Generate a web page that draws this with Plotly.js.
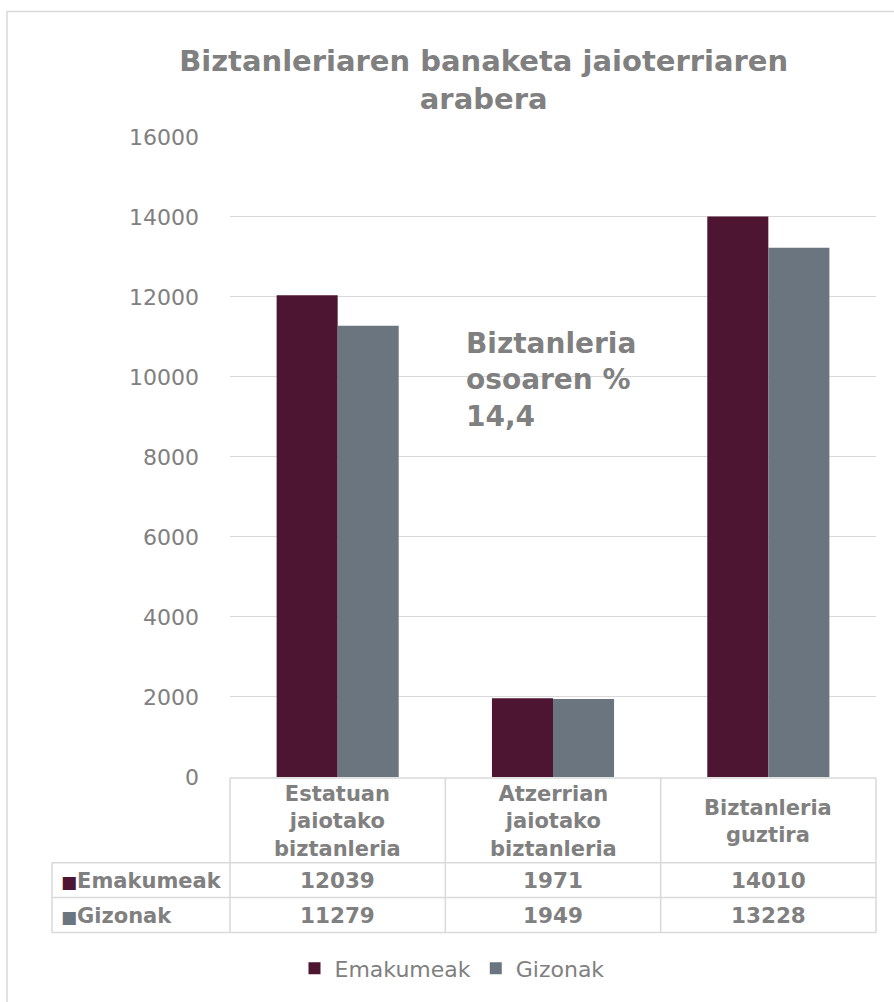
<!DOCTYPE html>
<html>
<head>
<meta charset="utf-8">
<script src="https://cdn.plot.ly/plotly-3.0.1.min.js"></script>
<style>
  body { margin: 0; background: #fff; }
  #plotArea { width: 894px; height: 1002px; }
</style>
</head>
<body>
<div id="plotArea"></div>
<script>
// categories shown in the table header
var categories = ["Estatuan<br>jaiotako<br>biztanleria", "Atzerrian<br>jaiotako<br>biztanleria", "Biztanleria<br>guztira"];
var seriesNames = ["Emakumeak", "Gizonak"];
var emakumeak = [12039, 1971, 14010];
var gizonak = [11279, 1949, 13228];
var colors = ["#4d1531", "#6b757f"];
var note = "Biztanleria<br>osoaren %<br>14,4";

var grey = "#808080";
var lineGrey = "#d9d9d9";
var font = "DejaVu Sans, Verdana, sans-serif";

var catIdx = categories.map(function(c, i) { return i; });

var trace1 = {
    x: catIdx, y: emakumeak, name: seriesNames[0], type: "bar",
    marker: {color: colors[0]}, hoverinfo: "y"
};
var trace2 = {
    x: catIdx, y: gizonak, name: seriesNames[1], type: "bar",
    marker: {color: colors[1]}, hoverinfo: "y"
};

// paper coordinates of table rows (plot spans y 136..779 px)
function py(px) { return (779 - px) / 643; }
function px2(px) { return (px - 230) / 646; }

var annotations = [];
categories.forEach(function(c, i) {
    annotations.push({x: i, xref: "x", y: py(824), yref: "paper", text: "<b>" + c + "</b>",
        showarrow: false, font: {size: 21, color: grey, family: font}, yanchor: "middle"});
    annotations.push({x: i, xref: "x", y: py(883), yref: "paper", text: "<b>" + emakumeak[i] + "</b>",
        showarrow: false, font: {size: 21.5, color: grey, family: font}, yanchor: "middle"});
    annotations.push({x: i, xref: "x", y: py(918), yref: "paper", text: "<b>" + gizonak[i] + "</b>",
        showarrow: false, font: {size: 21.5, color: grey, family: font}, yanchor: "middle"});
});
seriesNames.forEach(function(n, k) {
    annotations.push({x: px2(59), xref: "paper", y: py(k == 0 ? 883 : 918), yref: "paper",
        text: '<span style="font-size:17px;color:' + colors[k] + '">■</span><b>' + n + "</b>",
        showarrow: false, xanchor: "left", yanchor: "middle",
        font: {size: 21, color: grey, family: font}});
});
annotations.push({x: px2(464), xref: "paper", y: py(326), yref: "paper", text: "<b>" + note + "</b>",
    showarrow: false, xanchor: "left", yanchor: "top", align: "left",
    font: {size: 28, color: grey, family: font}});

var ln = {color: lineGrey, width: 1.5};
var shapes = [
    // chart border
    {type: "rect", xref: "paper", yref: "paper", x0: px2(7), x1: px2(905), y0: py(11), y1: py(1010),
        line: {color: lineGrey, width: 1.5}},
    // table grid
    {type: "line", xref: "paper", yref: "paper", x0: 0, x1: 1, y0: py(780), y1: py(780), line: ln},
    {type: "line", xref: "paper", yref: "paper", x0: px2(52), x1: 1, y0: py(865), y1: py(865), line: ln},
    {type: "line", xref: "paper", yref: "paper", x0: px2(52), x1: 1, y0: py(900), y1: py(900), line: ln},
    {type: "line", xref: "paper", yref: "paper", x0: px2(52), x1: 1, y0: py(935), y1: py(935), line: ln},
    {type: "line", xref: "paper", yref: "paper", x0: px2(52), x1: px2(52), y0: py(865), y1: py(935), line: ln},
    {type: "line", xref: "paper", yref: "paper", x0: 0, x1: 0, y0: py(780), y1: py(935), line: ln},
    {type: "line", xref: "paper", yref: "paper", x0: 1, x1: 1, y0: py(780), y1: py(935), line: ln},
    {type: "line", xref: "x", yref: "paper", x0: 0.5, x1: 0.5, y0: py(780), y1: py(935), line: ln},
    {type: "line", xref: "x", yref: "paper", x0: 1.5, x1: 1.5, y0: py(780), y1: py(935), line: ln}
];

var layout = {
    width: 894, height: 1002,
    margin: {l: 230, r: 18, t: 136, b: 223},
    paper_bgcolor: "#fff", plot_bgcolor: "#fff",
    font: {family: font, color: grey},
    title: {
        text: "<b>Biztanleriaren banaketa jaioterriaren<br>arabera</b>",
        font: {size: 29, color: grey, family: font},
        x: 0.541, xanchor: "center", y: 0.929, yanchor: "top"
    },
    barmode: "group", bargap: 0.433, bargroupgap: 0,
    xaxis: {range: [-0.5, 2.5], showticklabels: false, showgrid: false, zeroline: false,
        showline: false, ticks: "", fixedrange: true},
    yaxis: {range: [0, 16020], tickvals: [0, 2000, 4000, 6000, 8000, 10000, 12000, 14000, 16000],
        tickformat: "d", showgrid: true, gridcolor: lineGrey, gridwidth: 1.3,
        zeroline: false, showline: false, tickfont: {size: 22, color: grey, family: font},
        ticklabelstandoff: 30, fixedrange: true},
    showlegend: true,
    legend: {orientation: "h", x: px2(452), xanchor: "center", y: py(971), yanchor: "middle",
        font: {size: 22, color: grey, family: font}, itemwidth: 30, tracegroupgap: 0},
    annotations: annotations,
    shapes: shapes
};

Plotly.newPlot("plotArea", [trace1, trace2], layout, {displayModeBar: false});
</script>
</body>
</html>
